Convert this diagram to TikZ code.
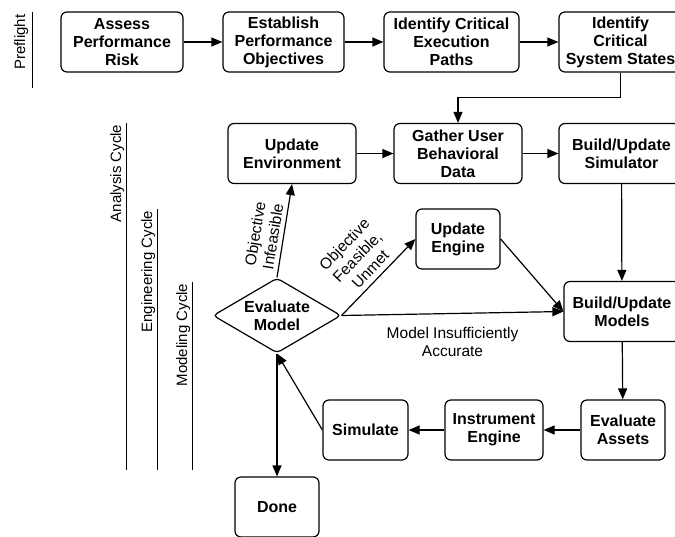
\documentclass[tikz,border=0pt]{standalone}
\usepackage{fontspec}
\setmainfont{Liberation Sans}
\usetikzlibrary{shapes.geometric,arrows.meta}

\begin{document}
\begin{tikzpicture}[x=1pt,y=-1pt,
  box/.style={draw,line width=1.2pt,rounded corners=6pt,align=center,
    minimum height=60pt,inner sep=2pt,font=\fontsize{16}{18}\selectfont\bfseries},
  decision/.style={draw,diamond,line width=1.2pt,rounded corners=4pt,align=center,
    aspect=1.7,minimum width=128pt,minimum height=75pt,inner sep=0pt,
    font=\fontsize{16}{18}\selectfont\bfseries},
  lbl/.style={align=center,font=\fontsize{15.5}{18}\selectfont},
  cyc/.style={rotate=90,inner sep=1.5pt,font=\fontsize{15}{18}\selectfont},
  cycline/.style={line width=1pt},
  arr/.style={line width=1.2pt,-{Triangle[length=11pt,width=9pt]}}]
  \useasboundingbox (0,0) rectangle (675,536);

  \node[box,minimum width=122pt] (assess) at (122,42) {Assess\\Performance\\Risk};
  \node[box,minimum width=121pt] (establish) at (283.5,42) {Establish\\Performance\\Objectives};
  \node[box,minimum width=135pt] (paths) at (451.5,42) {Identify Critical\\Execution\\Paths};
  \node[box,minimum width=123pt] (states) at (620.5,42) {Identify\\Critical\\System States};

  \node[box,minimum width=128pt] (environment) at (292,153.5) {Update\\Environment};
  \node[box,minimum width=128pt] (gather) at (458,153.5) {Gather User\\Behavioral\\Data};
  \node[box,minimum width=125pt] (simulator) at (621.5,153.5) {Build/Update\\Simulator};
  \node[box,minimum width=84pt] (engine) at (458,239) {Update\\Engine};
  \node[decision] (evaluate) at (277,315.5) {Evaluate\\Model};
  \node[box,minimum width=116pt] (models) at (622,311.5) {Build/Update\\Models};
  \node[box,minimum width=85pt] (simulate) at (365.5,430) {Simulate};
  \node[box,minimum width=98pt] (instrument) at (494,430) {Instrument\\Engine};
  \node[box,minimum width=84pt] (assets) at (623,430) {Evaluate\\Assets};
  \node[box,minimum width=84pt] (done) at (277,507) {Done};

  \draw[arr] (assess) -- (establish);
  \draw[arr] (establish) -- (paths);
  \draw[arr] (paths) -- (states);
  \draw[arr] (states.south) -- ++(0,25) -| (gather.north);
  \draw[arr] (environment) -- (gather);
  \draw[arr] (gather) -- (simulator);
  \draw[arr] (simulator) -- (models);
  \draw[arr] (models) -- (assets);
  \draw[arr] (assets) -- (instrument);
  \draw[arr] (instrument) -- (simulate);
  \draw[arr] (simulate.west) -- (evaluate.south);
  \draw[arr] (evaluate.south) -- (done);
  \draw[arr] (evaluate.north) -- node[lbl,sloped,above=1pt,pos=0.42] {Objective\\Infeasible} (environment.south);
  \draw[arr] (evaluate.east) -- node[lbl,sloped,above=2pt] {Objective\\Feasible,\\Unmet} (engine.west);
  \draw[arr] (evaluate.east) -- node[lbl,below=10pt] {Model Insufficiently\\Accurate} (models.west);
  \draw[arr] (engine.east) -- (models.west);

  \draw[cycline] (32,12) -- (32,88);
  \node[cyc,anchor=south,inner sep=3.5pt] (preflight) at (32,42) {Preflight};
  \draw[cycline] (126,123) -- (126,470);
  \node[cyc,anchor=south east] (analysis) at (126,123) {Analysis Cycle};
  \draw[cycline] (157,209) -- (157,470);
  \node[cyc,anchor=south east] (engineering) at (157,209) {Engineering Cycle};
  \draw[cycline] (192,282) -- (192,470);
  \node[cyc,anchor=south east] (modeling) at (192,282) {Modeling Cycle};
\end{tikzpicture}
\end{document}
